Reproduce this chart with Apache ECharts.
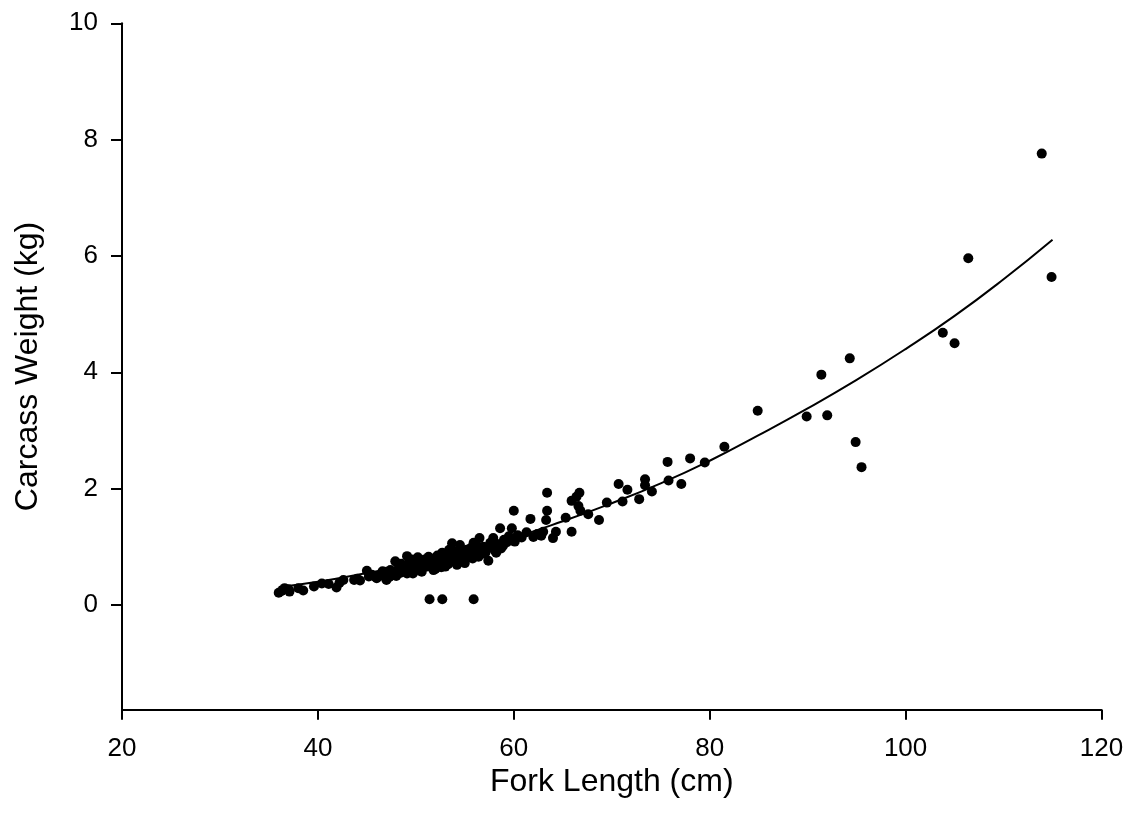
<!DOCTYPE html>
<html>
<head>
<meta charset="utf-8">
<script src="https://cdn.jsdelivr.net/npm/echarts@6/dist/echarts.min.js"></script>
<style>html,body{margin:0;padding:0;background:#fff;}#c{width:1128px;height:826px;}</style>
</head>
<body>
<div id="c"></div>
<script>
// Observed fish: [fork length (cm), carcass weight (kg)]
const fishPoints = [
 [36.0,0.21],[36.3,0.24],[36.6,0.29],[37.1,0.23],[37.0,0.27],[38.0,0.29],[38.5,0.25],[39.6,0.32],
 [40.4,0.37],[41.1,0.36],[41.9,0.30],[42.2,0.38],[42.6,0.43],[43.7,0.43],[44.0,0.45],[44.3,0.42],
 [45.0,0.59],[45.2,0.49],[45.5,0.52],[45.8,0.49],[46.3,0.50],[46.8,0.55],[47.0,0.43],[47.0,0.57],
 [47.4,0.60],[47.7,0.52],[47.9,0.75],[48.2,0.62],[48.4,0.55],[48.7,0.67],[48.9,0.58],[49.1,0.84],
 [49.1,0.54],[49.3,0.72],[49.5,0.63],[49.7,0.54],[49.9,0.68],[50.1,0.75],[50.3,0.60],[50.5,0.70],
 [50.7,0.64],[50.9,0.78],[51.1,0.66],[51.3,0.83],[51.5,0.72],[51.8,0.60],[51.9,0.76],[52.1,0.68],
 [52.3,0.82],[52.6,0.65],[52.7,0.90],[52.9,0.74],[53.1,0.80],[53.3,0.70],[53.5,0.86],[53.7,1.06],
 [53.9,0.78],[54.0,0.92],[54.2,0.69],[54.4,0.84],[54.5,1.03],[54.7,0.76],[54.9,0.88],[55.2,0.95],
 [55.4,0.82],[55.6,0.98],[55.9,1.07],[55.9,0.92],[56.1,0.86],[56.4,0.83],[56.5,1.15],[56.7,0.96],
 [56.9,1.00],[57.1,0.90],[57.4,0.76],[57.6,1.07],[57.9,1.15],[58.0,0.95],[58.3,1.05],[58.6,1.32],
 [58.7,0.97],[59.0,1.12],[59.3,1.08],[59.8,1.32],[60.0,1.62],[60.1,1.09],[60.4,1.20],[60.8,1.16],
 [61.3,1.25],[61.7,1.48],[62.0,1.17],[62.4,1.22],[62.8,1.19],
 [46.0,0.46],[46.6,0.58],[48.0,0.50],[48.5,0.71],[49.0,0.65],[49.6,0.78],[50.2,0.82],[50.6,0.57],
 [51.0,0.71],[51.6,0.79],[52.0,0.62],[52.4,0.73],[53.0,0.66],[53.6,0.75],[54.1,0.80],[54.6,0.95],
 [55.0,0.72],[55.3,0.89],[55.8,0.80],[56.2,1.02],[56.8,0.88],[57.3,0.98],[57.8,1.02],[58.2,0.90],
 [58.9,1.02],[59.5,1.18],[53.4,0.95],[52.2,0.85],[50.8,0.70],[47.3,0.48],
 [51.4,0.10],[52.7,0.10],[55.9,0.10],
 [63.0,1.26],[63.4,1.93],[63.4,1.62],[63.3,1.46],[64.0,1.15],[64.3,1.26],[65.3,1.50],[65.9,1.26],
 [66.7,1.93],[66.4,1.86],[65.9,1.79],[66.6,1.70],[66.8,1.62],[67.6,1.56],[68.7,1.46],[69.5,1.76],
 [70.7,2.08],[71.6,1.98],[71.1,1.78],[72.8,1.82],[73.4,2.16],[73.4,2.06],[74.1,1.95],[75.8,2.14],
 [77.1,2.08],[75.7,2.46],[78.0,2.52],[79.5,2.45],[81.5,2.72],[84.9,3.34],
 [89.9,3.24],[92.0,3.26],[91.4,3.96],[94.3,4.24],[94.9,2.80],[95.5,2.37],
 [103.8,4.68],[105.0,4.50],[106.4,5.96],[113.9,7.76],[114.9,5.64]
];
// Fitted curve: lengths and weights
const curveLength = [36,40,45,50,55,60,65,70,75,80,85,90,95,100,105,110,115];
const curveWeight = [0.31,0.40,0.55,0.72,0.93,1.16,1.44,1.75,2.09,2.48,2.92,3.38,3.87,4.40,4.97,5.60,6.28];
const yTicks = [0,2,4,6,8,10];
const xTicks = [20,40,60,80,100,120];

const curve = curveLength.map((l,i)=>[l,curveWeight[i]]);
const font = 'Liberation Sans, Arial, sans-serif';
const chart = echarts.init(document.getElementById('c'));
chart.setOption({
  animation:false,
  backgroundColor:'#fff',
  grid:{left:122,right:26.5,top:23.3,bottom:116.3},
  xAxis:{
    type:'value',min:20,max:120,interval:20,
    name:'Fork Length (cm)',nameLocation:'middle',nameGap:54,
    nameTextStyle:{fontFamily:font,fontSize:32,color:'#000'},
    axisLine:{onZero:false,lineStyle:{color:'#000',width:2}},
    axisTick:{show:true,length:10,lineStyle:{color:'#000',width:2},customValues:xTicks},
    axisLabel:{fontFamily:font,fontSize:26,color:'#000',margin:26,customValues:xTicks},
    splitLine:{show:false}
  },
  yAxis:{
    type:'value',min:-1.8,max:10,
    name:'Carcass Weight (kg)',nameLocation:'middle',nameGap:78,nameRotate:90,
    nameTextStyle:{fontFamily:font,fontSize:32,color:'#000'},
    axisLine:{onZero:false,lineStyle:{color:'#000',width:2}},
    axisTick:{show:true,length:11,lineStyle:{color:'#000',width:2},customValues:yTicks},
    axisLabel:{fontFamily:font,fontSize:26,color:'#000',margin:24,customValues:yTicks},
    splitLine:{show:false}
  },
  series:[
    {type:'scatter',data:fishPoints,symbol:'circle',symbolSize:10,itemStyle:{color:'#000',opacity:1},z:3},
    {type:'line',data:curve,smooth:true,showSymbol:false,lineStyle:{color:'#000',width:2},z:2}
  ]
});
</script>
</body>
</html>
